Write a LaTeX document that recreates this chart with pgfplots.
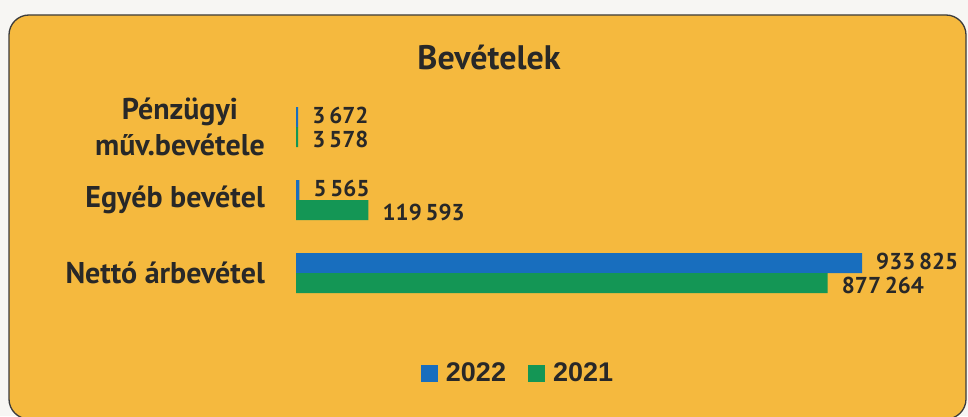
\documentclass[border=0pt]{standalone}
\usepackage{fontspec}
\setmainfont{PT Sans}
\newfontfamily\legfont{Liberation Sans}
\usepackage{pgfplots}
\pgfplotsset{compat=1.18}
\definecolor{gold}{RGB}{245,185,62}
\definecolor{pagebg}{RGB}{247,246,243}
\definecolor{framec}{RGB}{60,60,60}
\definecolor{bblue}{RGB}{24,110,190}
\definecolor{bgreen}{RGB}{20,150,85}
\definecolor{textc}{RGB}{40,40,40}
\begin{document}
\begin{tikzpicture}[x=1pt,y=1pt,text=textc]
\useasboundingbox (0,0) rectangle (968,416);
\fill[pagebg] (0,0) rectangle (968,416);
\begin{scope}
\clip (0,0) rectangle (968,416);
\draw[fill=gold, draw=framec, line width=1.3pt, rounded corners=20pt] (9,401) rectangle (966,-3);
\end{scope}
\node[font=\bfseries\fontsize{34}{40}\selectfont] at (489,359) {Bevételek};
\begin{axis}[
  at={(296pt,106.5pt)}, anchor=south west,
  scale only axis, width=566pt, height=219pt,
  xbar, bar width=20pt,
  xmin=0, xmax=933825, ymin=-0.5, ymax=2.5,
  axis line style={draw=none}, tick style={draw=none},
  major tick length=0pt,
  xtick=\empty,
  ytick={0,1,2},
  yticklabels={Nettó árbevétel, Egyéb bevétel, {Pénzügyi\\műv.bevétele}},
  yticklabel style={inner sep=0pt, xshift=-31pt, align=center, text=textc,
    font=\bfseries\fontsize{30}{36}\selectfont},
  clip=false,
  point meta=explicit symbolic,
  nodes near coords,
  every node near coord/.append style={anchor=west, inner sep=0pt, xshift=14pt,
    text=textc, font=\bfseries\fontsize{23}{28}\selectfont},
  legend columns=2,
  legend style={draw=none, fill=none, at={(0.3905,-0.29)}, anchor=center,
    font=\legfont\bfseries\fontsize{27}{32}\selectfont, text=textc,
    nodes={inner sep=0pt},
    /tikz/every even column/.append style={column sep=22pt}},
  legend image code/.code={\fill[#1] (0pt,-8.5pt) rectangle (17pt,8.5pt); \path (25pt,0pt);},
]
\addplot[fill=bblue, draw=none, bar shift=10pt,
  every node near coord/.append style={yshift=2pt}] coordinates {
  (933825,0) [933\,825]
  (5565,1) [5\,565]
  (3672,2) [3\,672]
};
\addlegendentry{2022}
\addplot[fill=bgreen, draw=none, bar shift=-10pt,
  every node near coord/.append style={yshift=-2pt}] coordinates {
  (877264,0) [877\,264]
  (119593,1) [119\,593]
  (3578,2) [3\,578]
};
\addlegendentry{2021}
\end{axis}
\end{tikzpicture}
\end{document}
